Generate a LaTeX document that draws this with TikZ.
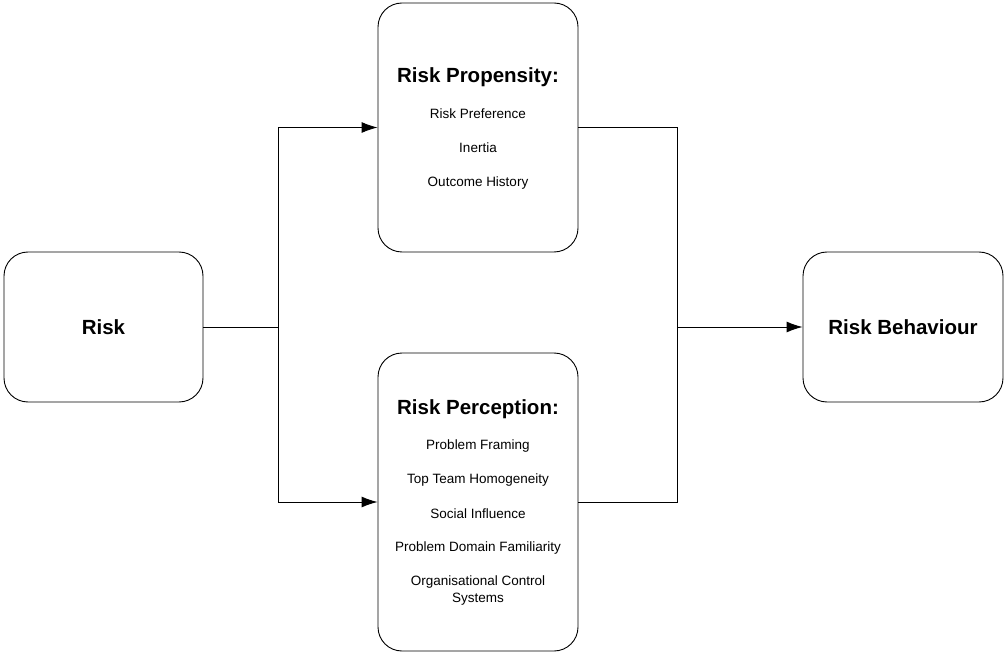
\documentclass[tikz,border=0pt]{standalone}
\usepackage{fontspec}
\setmainfont{Liberation Sans}
\usetikzlibrary{positioning,arrows.meta}

\begin{document}
\begin{tikzpicture}[
	x=1pt, y=-1pt,
	box/.style={draw, line width=0.9pt, rounded corners=24pt, fill=white, inner sep=0pt},
	head/.style={font=\fontsize{20.5}{24}\selectfont\bfseries},
	item/.style={font=\fontsize{13.5}{17}\selectfont, align=center},
	link/.style={line width=0.9pt},
	arr/.style={link, -{Latex[length=16pt,width=11pt]}}
	]
	\useasboundingbox (0,0) rectangle (1004,652);
	% boxes
	\node[box, minimum width=199pt, minimum height=150pt] (risk) at (103.5,327) {};
	\node[head] (riskT) at (risk) {Risk};
	\node[box, minimum width=200pt, minimum height=249pt] (prop) at (478,127.5) {};
	\node[box, minimum width=200pt, minimum height=298pt] (perc) at (478,502) {};
	\node[box, minimum width=200pt, minimum height=150pt] (behav) at (903,327) {};
	\node[head] (behavT) at (behav) {Risk Behaviour};
	% propensity
	\node[head] (propT) at (478,77) {Risk Propensity:};
	\node[item] (prop1) at (478,114) {Risk Preference};
	\node[item] (prop2) at (478,148) {Inertia};
	\node[item] (prop3) at (478,183) {Outcome History};
	% perception
	\node[head] (percT) at (478,409) {Risk Perception:};
	\node[item] (perc1) at (478,446) {Problem Framing};
	\node[item] (perc2) at (478,480) {Top Team Homogeneity};
	\node[item] (perc3) at (478,514) {Social Influence};
	\node[item] (perc4) at (478,548) {Problem Domain Familiarity};
	\node[item] (perc5) at (478,590.5) {Organisational Control\\Systems};
	% connectors
	\coordinate (jl) at (278,327);
	\coordinate (jr) at (677,327);
	\draw[link] (risk.east) -- (jl);
	\draw[arr] (jl) |- (prop.west);
	\draw[arr] (jl) |- (perc.west);
	\draw[link] (prop.east) -| (jr);
	\draw[link] (perc.east) -| (jr);
	\draw[arr] (jr) -- (behav.west);
\end{tikzpicture}
\end{document}
